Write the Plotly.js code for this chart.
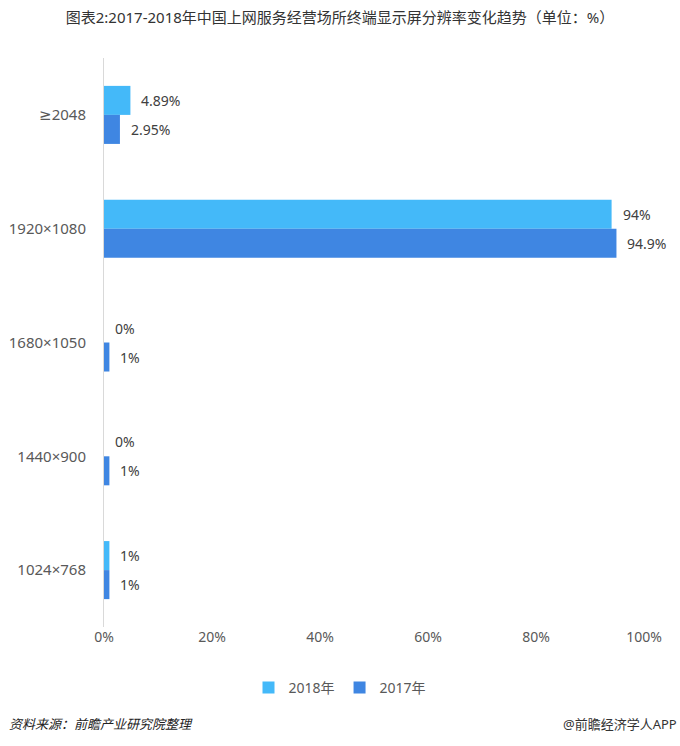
<!DOCTYPE html>
<html><head><meta charset="utf-8">
<script src="https://cdn.plot.ly/plotly-3.0.1.min.js"></script>
<style>body{margin:0;background:#fff}#chart{width:680px;height:746px}</style>
</head><body><div id="chart"></div>
<script>
const categories = ['≥2048', '1920×1080', '1680×1050', '1440×900', '1024×768'];
const values2018 = [4.89, 94, 0, 0, 1];
const values2017 = [2.95, 94.9, 1, 1, 1];
const labels2018 = ['4.89%', '94%', '0%', '0%', '1%'];
const labels2017 = ['2.95%', '94.9%', '1%', '1%', '1%'];
const seriesNames = ['2018年', '2017年'];
const xTicks = [0, 20, 40, 60, 80, 100];
const xTickText = ['0%', '20%', '40%', '60%', '80%', '100%'];

const font = '"Noto Sans", "DejaVu Sans", "Noto Sans CJK SC", sans-serif';
const traces = [
  {type: 'bar', orientation: 'h', name: seriesNames[0], y: categories, x: values2018,
   marker: {color: '#44b9f9'}, hoverinfo: 'none'},
  {type: 'bar', orientation: 'h', name: seriesNames[1], y: categories, x: values2017,
   marker: {color: '#3f86e2'}, hoverinfo: 'none'}
];
const annotations = [];
categories.forEach((c, i) => {
  annotations.push({x: values2018[i], y: c, text: labels2018[i], showarrow: false,
    xanchor: 'left', xshift: 9, yshift: 14.5, font: {size: 14, color: '#404040', family: font}});
  annotations.push({x: values2017[i], y: c, text: labels2017[i], showarrow: false,
    xanchor: 'left', xshift: 9, yshift: -14.5, font: {size: 14, color: '#404040', family: font}});
});
annotations.push({xref: 'paper', yref: 'paper', x: -104/540 + 7/540, y: -(724-627)/569,
  xanchor: 'left', yanchor: 'middle', showarrow: false,
  text: '<i>资料来源：前瞻产业研究院整理</i>', font: {size: 13, color: '#222', family: font}});
annotations.push({xref: 'paper', yref: 'paper', x: (679-104)/540, y: -(724-627)/569,
  xanchor: 'right', yanchor: 'middle', showarrow: false,
  text: '@前瞻经济学人APP', font: {size: 13, color: '#333', family: font}});

const layout = {
  width: 680, height: 746,
  margin: {l: 104, r: 36, t: 58, b: 119},
  paper_bgcolor: '#fff', plot_bgcolor: '#fff',
  font: {family: font, color: '#595959', size: 14},
  title: {text: '图表2:2017-2018年中国上网服务经营场所终端显示屏分辨率变化趋势（单位：%）',
    x: 0.5, xref: 'container', xanchor: 'center', y: 1 - 18/746, yanchor: 'middle',
    font: {size: 15, color: '#333', family: font}},
  barmode: 'group', bargap: 0.49, bargroupgap: 0,
  xaxis: {range: [0, 100], tickmode: 'array', tickvals: xTicks, ticktext: xTickText,
    showgrid: false, zeroline: false, showline: false, ticks: '',
    tickfont: {size: 14, color: '#595959'}, fixedrange: true},
  yaxis: {autorange: 'reversed', type: 'category', showgrid: false, showline: true,
    linecolor: '#d9d9d9', linewidth: 1, ticks: '', ticklabelstandoff: 14,
    tickfont: {size: 15, color: '#595959'}, fixedrange: true},
  showlegend: true,
  legend: {orientation: 'h', x: (340-104)/540, xanchor: 'center', y: -(688-627)/569, yanchor: 'middle',
    font: {size: 14, color: '#595959'}, itemwidth: 30},
  annotations: annotations
};
Plotly.newPlot('chart', traces, layout, {displayModeBar: false, staticPlot: true});
</script></body></html>
